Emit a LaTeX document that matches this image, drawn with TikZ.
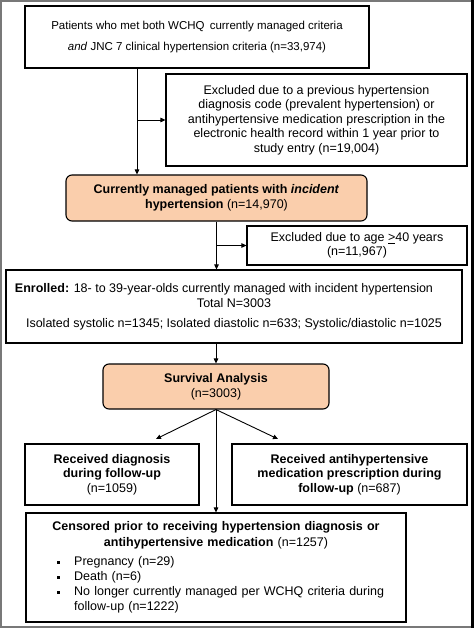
\documentclass[tikz,border=0pt]{standalone}
\usepackage{fontspec}
\setmainfont{Liberation Sans}
\usetikzlibrary{arrows.meta,calc}
\definecolor{peach}{RGB}{250,206,172}
\definecolor{framegray}{RGB}{120,120,120}
\tikzset{
  box/.style={draw=black, line width=1.1pt, fill=white, inner sep=2pt, align=center,
    font=\fontsize{12.5}{14.5}\selectfont},
  keybox/.style={box, fill=peach, rounded corners=6pt},
  conn/.style={line width=0.9pt},
  arr/.style={conn, -{Triangle[length=5pt,width=4.5pt]}},
}
\begin{document}
\begin{tikzpicture}[x=1pt,y=-1pt]
\useasboundingbox (0,0) rectangle (474,628);
\fill[white] (0,0) rectangle (474,628);
% frame of the image
\draw[framegray, line width=2.5pt] (474,1.2) -- (1.2,1.2) -- (1.2,626.8) -- (474,626.8);
\draw[black, line width=3pt] (472.5,0) -- (472.5,628);

\node[box, minimum width=344pt, minimum height=62pt, font=\fontsize{11.5}{21}\selectfont] (b1) at (197,37)
  {Patients who met both WCHQ\, currently managed criteria\\ \textit{and} JNC 7 clinical hypertension criteria (n=33,974)};
\node[box, minimum width=301pt, minimum height=92pt] (b2) at (316.5,120)
  {Excluded due to a previous hypertension\\ diagnosis code (prevalent hypertension) or\\ antihypertensive medication prescription in the\\ electronic health record within 1 year prior to\\ study entry (n=19,004)};
\node[keybox, minimum width=301pt, minimum height=46pt] (b3) at (216.5,198)
  {\textbf{Currently managed patients with \textit{incident}}\\ \textbf{hypertension} (n=14,970)};
\node[box, minimum width=220pt, minimum height=39pt] (b4) at (357,245.5)
  {Excluded due to age \underline{>}40 years\\ (n=11,967)};
\node[box, minimum width=456pt, minimum height=73pt, font=\fontsize{12.5}{15}\selectfont] (b5) at (234,306.5)
  {\hspace*{-20pt}\textbf{Enrolled:} 18- to 39-year-olds currently managed with incident hypertension\\ Total N=3003\\[5pt] Isolated systolic n=1345; Isolated diastolic n=633; Systolic/diastolic n=1025};
\node[keybox, minimum width=226pt, minimum height=45pt, font=\fontsize{12.5}{15}\selectfont] (b6) at (216,386.5)
  {\textbf{Survival Analysis}\\ (n=3003)};
\node[box, minimum width=174pt, minimum height=61pt] (b7) at (112,474.5)
  {\textbf{Received diagnosis}\\ \textbf{during follow-up}\\ (n=1059)};
\node[box, minimum width=235pt, minimum height=61pt] (b8) at (349.5,474.5)
  {\textbf{Received antihypertensive}\\ \textbf{medication prescription during}\\ \textbf{follow-up} (n=687)};
\node[box, text width=376pt, minimum height=109pt, align=left, font=\fontsize{12.5}{15}\selectfont] (b9) at (216,567.5)
  {{\centering\fontsize{12.5}{16}\selectfont \textbf{Censored prior to receiving hypertension diagnosis or}\\ \textbf{antihypertensive medication} (n=1257)\par}\vspace{4pt}
   {\raggedright
   \hspace*{29pt}\raisebox{2pt}{\rule{3.2pt}{3.2pt}}\hspace{14pt}Pregnancy (n=29)\\
   \hspace*{29pt}\raisebox{2pt}{\rule{3.2pt}{3.2pt}}\hspace{14pt}Death (n=6)\\
   \hspace*{29pt}\raisebox{2pt}{\rule{3.2pt}{3.2pt}}\hspace{14pt}No longer currently managed per WCHQ criteria during\\
   \hspace*{46.2pt}follow-up (n=1222)\par}};

% connectors
\coordinate (c1) at (137,0 |- b1.south);
\draw[arr] (c1) -- (c1 |- b3.north);
\draw[arr] (c1 |- b2.west) -- (b2.west);
\draw[arr] (b3.south) -- (b3.south |- b5.north);
\draw[arr] (b3.south |- b4.west) -- (b4.west);
\draw[arr] (b6.north |- b5.south) -- (b6.north);
\coordinate (tl) at (156,439);
\coordinate (tr) at (278,439);
\draw[arr] (b6.south) -- (tl);
\draw[arr] (b6.south) -- (tr);
\draw[arr] (b6.south) -- (b9.north);
\end{tikzpicture}
\end{document}
